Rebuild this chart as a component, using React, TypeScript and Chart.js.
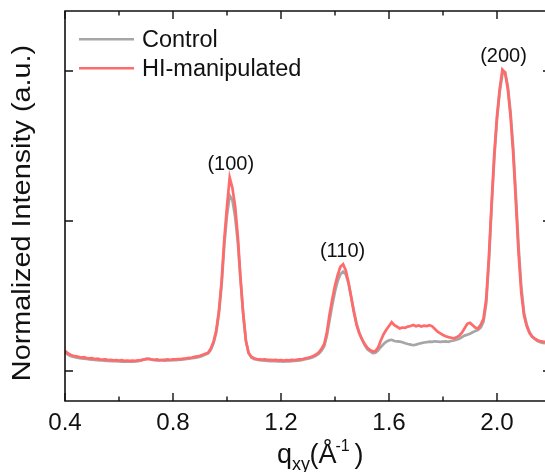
import { useEffect, useRef } from 'react';
import { Chart, registerables } from 'chart.js';

Chart.register(...registerables);

const qValues = [
  0.40, 0.41, 0.42, 0.43, 0.44, 0.45, 0.46, 0.47, 0.48, 0.49,
  0.50, 0.51, 0.52, 0.53, 0.54, 0.55, 0.56, 0.57, 0.58, 0.59,
  0.60, 0.61, 0.62, 0.63, 0.64, 0.65, 0.66, 0.67, 0.68, 0.69,
  0.70, 0.71, 0.72, 0.73, 0.74, 0.75, 0.76, 0.77, 0.78, 0.79,
  0.80, 0.81, 0.82, 0.83, 0.84, 0.85, 0.86, 0.87, 0.88, 0.89,
  0.90, 0.91, 0.92, 0.93, 0.94, 0.95, 0.96, 0.97, 0.98, 0.99,
  1.00, 1.01, 1.02, 1.03, 1.04, 1.05, 1.06, 1.07, 1.08, 1.09,
  1.10, 1.11, 1.12, 1.13, 1.14, 1.15, 1.16, 1.17, 1.18, 1.19,
  1.20, 1.21, 1.22, 1.23, 1.24, 1.25, 1.26, 1.27, 1.28, 1.29,
  1.30, 1.31, 1.32, 1.33, 1.34, 1.35, 1.36, 1.37, 1.38, 1.39,
  1.40, 1.41, 1.42, 1.43, 1.44, 1.45, 1.46, 1.47, 1.48, 1.49,
  1.50, 1.51, 1.52, 1.53, 1.54, 1.55, 1.56, 1.57, 1.58, 1.59,
  1.60, 1.61, 1.62, 1.63, 1.64, 1.65, 1.66, 1.67, 1.68, 1.69,
  1.70, 1.71, 1.72, 1.73, 1.74, 1.75, 1.76, 1.77, 1.78, 1.79,
  1.80, 1.81, 1.82, 1.83, 1.84, 1.85, 1.86, 1.87, 1.88, 1.89,
  1.90, 1.91, 1.92, 1.93, 1.94, 1.95, 1.96, 1.97, 1.98, 1.99,
  2.00, 2.01, 2.02, 2.03, 2.04, 2.05, 2.06, 2.07, 2.08, 2.09,
  2.10, 2.11, 2.12, 2.13, 2.14, 2.15, 2.16, 2.17, 2.18, 2.19,
  2.20,
];

const controlValues = [
  0.125, 0.110, 0.100, 0.095, 0.090, 0.087, 0.084, 0.082, 0.080, 0.078,
  0.076, 0.074, 0.073, 0.070, 0.071, 0.068, 0.067, 0.066, 0.065, 0.066,
  0.064, 0.063, 0.064, 0.062, 0.063, 0.062, 0.064, 0.066, 0.069, 0.075,
  0.081, 0.083, 0.077, 0.073, 0.071, 0.070, 0.071, 0.069, 0.070, 0.071,
  0.072, 0.073, 0.074, 0.075, 0.077, 0.080, 0.082, 0.085, 0.088, 0.091,
  0.096, 0.102, 0.110, 0.118, 0.142, 0.185, 0.255, 0.380, 0.570, 0.840,
  1.040, 1.170, 1.140, 1.030, 0.860, 0.610, 0.380, 0.205, 0.120, 0.090,
  0.080, 0.075, 0.072, 0.070, 0.069, 0.067, 0.066, 0.065, 0.066, 0.064,
  0.064, 0.063, 0.065, 0.064, 0.066, 0.067, 0.069, 0.071, 0.074, 0.078,
  0.082, 0.087, 0.093, 0.102, 0.115, 0.135, 0.165, 0.235, 0.340, 0.440,
  0.530, 0.600, 0.645, 0.662, 0.645, 0.585, 0.495, 0.400, 0.315, 0.255,
  0.210, 0.172, 0.145, 0.130, 0.120, 0.122, 0.138, 0.160, 0.180, 0.195,
  0.204, 0.208, 0.200, 0.198, 0.196, 0.192, 0.185, 0.180, 0.176, 0.172,
  0.176, 0.182, 0.186, 0.190, 0.192, 0.196, 0.194, 0.198, 0.196, 0.194,
  0.196, 0.198, 0.195, 0.200, 0.203, 0.208, 0.214, 0.226, 0.236, 0.242,
  0.248, 0.258, 0.266, 0.274, 0.290, 0.330, 0.450, 0.730, 1.090, 1.420,
  1.680, 1.860, 1.980, 1.990, 1.900, 1.730, 1.490, 1.170, 0.830, 0.560,
  0.390, 0.310, 0.260, 0.232, 0.214, 0.200, 0.192, 0.188, 0.186, 0.187,
  0.185,
];

const hiValues = [
  0.135, 0.118, 0.108, 0.102, 0.098, 0.094, 0.090, 0.092, 0.086, 0.084,
  0.086, 0.080, 0.082, 0.078, 0.076, 0.078, 0.073, 0.075, 0.071, 0.073,
  0.070, 0.072, 0.068, 0.070, 0.067, 0.069, 0.068, 0.071, 0.073, 0.076,
  0.079, 0.080, 0.077, 0.075, 0.077, 0.073, 0.075, 0.074, 0.077, 0.075,
  0.078, 0.077, 0.080, 0.079, 0.083, 0.085, 0.088, 0.090, 0.094, 0.097,
  0.102, 0.108, 0.115, 0.122, 0.150, 0.195, 0.270, 0.400, 0.600, 0.880,
  1.100, 1.290, 1.220, 1.100, 0.900, 0.620, 0.380, 0.200, 0.120, 0.095,
  0.085, 0.080, 0.078, 0.076, 0.078, 0.074, 0.075, 0.072, 0.074, 0.071,
  0.073, 0.070, 0.072, 0.071, 0.074, 0.072, 0.076, 0.078, 0.080, 0.084,
  0.088, 0.093, 0.100, 0.110, 0.125, 0.148, 0.180, 0.260, 0.380, 0.480,
  0.570, 0.640, 0.695, 0.712, 0.670, 0.590, 0.490, 0.390, 0.305, 0.250,
  0.212, 0.180, 0.155, 0.140, 0.130, 0.133, 0.158, 0.205, 0.245, 0.275,
  0.300, 0.325, 0.305, 0.295, 0.284, 0.290, 0.288, 0.296, 0.300, 0.307,
  0.298, 0.304, 0.296, 0.303, 0.300, 0.306, 0.298, 0.280, 0.262, 0.251,
  0.240, 0.232, 0.226, 0.222, 0.218, 0.224, 0.236, 0.255, 0.285, 0.315,
  0.322, 0.305, 0.288, 0.284, 0.310, 0.350, 0.480, 0.760, 1.120, 1.450,
  1.700, 1.880, 2.010, 1.990, 1.880, 1.700, 1.450, 1.120, 0.780, 0.520,
  0.370, 0.300, 0.255, 0.228, 0.216, 0.205, 0.200, 0.196, 0.194, 0.195,
  0.192,
];

const seriesNames = ['Control', 'HI-manipulated'];
const xMajorTicks = [0.4, 0.8, 1.2, 1.6, 2.0];
const xMinorTicks = [0.6, 1.0, 1.4, 1.8, 2.2];
const yMajorTicks = [0, 1, 2];
const peakLabels = ['(100)', '(110)', '(200)'];
const peakQ = [1.014, 1.428, 2.024];
const peakI = [1.29, 0.712, 2.01];

const FONT = '"Liberation Sans", Arial, Helvetica, sans-serif';
const RED = '#ff6a6a';
const GREY = '#a6a6a6';
const INK = '#111111';

const framePlugin = {
  id: 'frame',
  afterDatasetsDraw(chart: any) {
    const { ctx, chartArea: a, scales } = chart;
    const xs = scales.x;
    const ys = scales.y;
    ctx.save();

    // spines
    ctx.strokeStyle = INK;
    ctx.lineWidth = 1.6;
    ctx.beginPath();
    ctx.rect(a.left, a.top, a.right - a.left, a.bottom - a.top);
    ctx.stroke();

    // ticks (inward)
    ctx.lineWidth = 1.4;
    ctx.beginPath();
    const xTick = (v: number, len: number) => {
      const px = xs.getPixelForValue(v);
      ctx.moveTo(px, a.bottom);
      ctx.lineTo(px, a.bottom - len);
      ctx.moveTo(px, a.top);
      ctx.lineTo(px, a.top + len);
    };
    xMajorTicks.forEach((v) => xTick(v, 8));
    xMinorTicks.forEach((v) => xTick(v, 4.5));
    yMajorTicks.forEach((v) => {
      const py = ys.getPixelForValue(v);
      ctx.moveTo(a.left, py);
      ctx.lineTo(a.left + 8, py);
      ctx.moveTo(a.right, py);
      ctx.lineTo(a.right - 8, py);
    });
    ctx.stroke();

    // tick labels
    ctx.fillStyle = INK;
    ctx.font = `23px ${FONT}`;
    ctx.textAlign = 'center';
    ctx.textBaseline = 'alphabetic';
    xMajorTicks.forEach((v) => {
      const px = xs.getPixelForValue(v);
      ctx.save();
      ctx.translate(px, 430);
      ctx.scale(1.05, 1);
      ctx.fillText(v.toFixed(1), 0, 0);
      ctx.restore();
    });

    // y title
    ctx.save();
    ctx.translate(23, 213);
    ctx.rotate(-Math.PI / 2);
    ctx.scale(1.13, 1);
    ctx.font = `25.5px ${FONT}`;
    ctx.textAlign = 'center';
    ctx.textBaseline = 'middle';
    ctx.fillText('Normalized Intensity (a.u.)', 0, 0);
    ctx.restore();

    // x title: q_xy(Å^-1)
    ctx.textAlign = 'left';
    ctx.textBaseline = 'alphabetic';
    ctx.font = `27px ${FONT}`;
    ctx.fillText('q', 277, 463);
    ctx.font = `18px ${FONT}`;
    ctx.fillText('xy', 292, 470);
    ctx.font = `27px ${FONT}`;
    ctx.fillText('(', 309.5, 463);
    ctx.fillText('Å', 318.5, 463);
    ctx.font = `16px ${FONT}`;
    ctx.fillText('-1', 335.5, 451);
    ctx.font = `27px ${FONT}`;
    ctx.fillText(')', 354.5, 463);

    // peak labels
    ctx.font = `20px ${FONT}`;
    ctx.textAlign = 'center';
    ctx.textBaseline = 'middle';
    peakLabels.forEach((t, i) => {
      const px = xs.getPixelForValue(peakQ[i]);
      const py = ys.getPixelForValue(peakI[i]) - 13;
      ctx.fillText(t, px, py);
    });

    // legend
    const legendColors = [GREY, RED];
    const legendY = [39.3, 68.3];
    ctx.font = `23.5px ${FONT}`;
    ctx.textAlign = 'left';
    ctx.textBaseline = 'alphabetic';
    seriesNames.forEach((name, i) => {
      ctx.strokeStyle = legendColors[i];
      ctx.lineWidth = 2.6;
      ctx.beginPath();
      ctx.moveTo(79, legendY[i]);
      ctx.lineTo(134, legendY[i]);
      ctx.stroke();
      ctx.fillStyle = INK;
      ctx.fillText(name, 142, legendY[i] + 7.8);
    });

    ctx.restore();
  },
};

export default function App() {
  const canvasRef = useRef<HTMLCanvasElement | null>(null);

  useEffect(() => {
    if (!canvasRef.current) return;
    const chart = new Chart(canvasRef.current, {
      type: 'line',
      data: {
        labels: qValues,
        datasets: [
          {
            label: seriesNames[0],
            data: qValues.map((q, i) => ({ x: q, y: controlValues[i] })),
            borderColor: GREY,
            borderWidth: 2.7,
            pointRadius: 0,
            tension: 0,
            order: 2,
          },
          {
            label: seriesNames[1],
            data: qValues.map((q, i) => ({ x: q, y: hiValues[i] })),
            borderColor: RED,
            borderWidth: 2.7,
            pointRadius: 0,
            tension: 0,
            order: 1,
          },
        ],
      },
      options: {
        responsive: false,
        animation: false,
        layout: { padding: { left: 65, top: 11, right: 9, bottom: 71 } },
        plugins: { legend: { display: false }, tooltip: { enabled: false } },
        events: [],
        scales: {
          x: { type: 'linear', min: 0.4, max: 2.2, display: false },
          y: { type: 'linear', min: -0.2, max: 2.4, display: false },
        },
      },
      plugins: [framePlugin],
    });
    return () => chart.destroy();
  }, []);

  return (
    <div
      style={{
        position: 'absolute',
        left: 0,
        top: 0,
        width: 545,
        height: 472,
        overflow: 'hidden',
        background: '#ffffff',
      }}
    >
      <canvas ref={canvasRef} width={560} height={472} style={{ display: 'block' }} />
    </div>
  );
}
